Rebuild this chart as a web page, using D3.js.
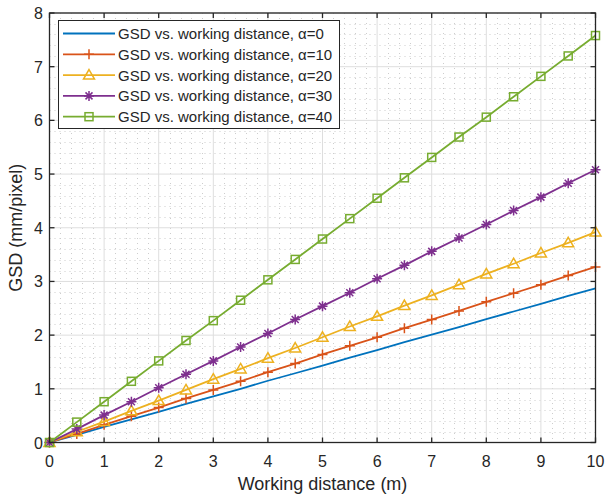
<!DOCTYPE html>
<html>
<head>
<meta charset="utf-8">
<script src="https://cdn.jsdelivr.net/npm/d3@7"></script>
<style>
  body { margin: 0; background: #fff; }
  svg { display: block; font-family: "Liberation Sans", Arial, sans-serif; }
</style>
</head>
<body>
<svg id="chart"></svg>
<script>
// working distance (m), one sample every 0.5 m
const distance = [0, 0.5, 1, 1.5, 2, 2.5, 3, 3.5, 4, 4.5, 5, 5.5, 6, 6.5, 7, 7.5, 8, 8.5, 9, 9.5, 10];

// GSD (mm/pixel)
const gsdA0 = [0, 0.14, 0.29, 0.43, 0.57, 0.72, 0.86, 1.00, 1.15, 1.29, 1.43, 1.58, 1.72, 1.87, 2.01, 2.15, 2.30, 2.44, 2.58, 2.73, 2.87];
const gsdA10 = [0, 0.16, 0.33, 0.49, 0.65, 0.82, 0.98, 1.14, 1.31, 1.47, 1.64, 1.80, 1.96, 2.13, 2.29, 2.45, 2.62, 2.78, 2.94, 3.11, 3.27];
const gsdA20 = [0, 0.20, 0.39, 0.59, 0.78, 0.98, 1.18, 1.37, 1.57, 1.76, 1.96, 2.16, 2.35, 2.55, 2.74, 2.94, 3.14, 3.33, 3.53, 3.72, 3.92];
const gsdA30 = [0, 0.25, 0.51, 0.76, 1.02, 1.27, 1.52, 1.78, 2.03, 2.29, 2.54, 2.79, 3.05, 3.30, 3.56, 3.81, 4.06, 4.32, 4.57, 4.83, 5.08];
const gsdA40 = [0, 0.38, 0.76, 1.14, 1.52, 1.90, 2.27, 2.65, 3.03, 3.41, 3.79, 4.17, 4.55, 4.93, 5.31, 5.69, 6.06, 6.44, 6.82, 7.20, 7.58];

const seriesNames = [
	"GSD vs. working distance, α=0",
	"GSD vs. working distance, α=10",
	"GSD vs. working distance, α=20",
	"GSD vs. working distance, α=30",
	"GSD vs. working distance, α=40",
];
const xTicks = [0, 1, 2, 3, 4, 5, 6, 7, 8, 9, 10];
const yTicks = [0, 1, 2, 3, 4, 5, 6, 7, 8];

const colors = ["#0072BD", "#D95319", "#EDB120", "#7E2F8E", "#77AC30"];
const markers = ["none", "plus", "triangle", "asterisk", "square"];
const allValues = [gsdA0, gsdA10, gsdA20, gsdA30, gsdA40];

const w = 606, h = 498;
const pLeft = 49.5, pRight = 595.5, pTop = 13, pBottom = 442.5;

const svg = d3.select("#chart").attr("width", w).attr("height", h);

const x = d3.scaleLinear().domain([0, 10]).range([pLeft, pRight]);
const y = d3.scaleLinear().domain([0, 8]).range([pBottom, pTop]);

// minor grid (dotted)
const minorX = d3.range(0, 10.001, 0.2).filter((v) => Math.abs(v - Math.round(v)) > 0.01);
const minorY = d3.range(0, 8.001, 0.2).filter((v) => Math.abs(v - Math.round(v)) > 0.01);
const grid = svg.append("g");
grid.selectAll(".mx").data(minorX).enter().append("line")
	.attr("x1", (d) => Math.round(x(d)) + 0.5).attr("x2", (d) => Math.round(x(d)) + 0.5)
	.attr("y1", pTop).attr("y2", pBottom)
	.attr("stroke", "#cdcdcd").attr("stroke-width", 1).attr("stroke-dasharray", "1,4");
grid.selectAll(".my").data(minorY).enter().append("line")
	.attr("y1", (d) => Math.round(y(d)) + 0.5).attr("y2", (d) => Math.round(y(d)) + 0.5)
	.attr("x1", pLeft).attr("x2", pRight)
	.attr("stroke", "#cdcdcd").attr("stroke-width", 1).attr("stroke-dasharray", "1,4");
// major grid
grid.selectAll(".gx").data(xTicks).enter().append("line")
	.attr("x1", (d) => x(d)).attr("x2", (d) => x(d))
	.attr("y1", pTop).attr("y2", pBottom)
	.attr("stroke", "#dedede").attr("stroke-width", 1);
grid.selectAll(".gy").data(yTicks).enter().append("line")
	.attr("y1", (d) => y(d)).attr("y2", (d) => y(d))
	.attr("x1", pLeft).attr("x2", pRight)
	.attr("stroke", "#dedede").attr("stroke-width", 1);

// marker drawing
function drawMarker(g, type, color) {
	const s = 5;
	if (type === "plus") {
		g.append("path").attr("d", `M${-s},0H${s}M0,${-s}V${s}`)
			.attr("stroke", color).attr("stroke-width", 1.5).attr("fill", "none");
	} else if (type === "triangle") {
		g.append("path").attr("d", `M0,${-5.5}L5.5,4L-5.5,4Z`)
			.attr("stroke", color).attr("stroke-width", 1.5).attr("fill", "none");
	} else if (type === "asterisk") {
		const d = 3.5;
		g.append("path").attr("d", `M${-s},0H${s}M0,${-s}V${s}M${-d},${-d}L${d},${d}M${-d},${d}L${d},${-d}`)
			.attr("stroke", color).attr("stroke-width", 1.5).attr("fill", "none");
	} else if (type === "square") {
		g.append("rect").attr("x", -4).attr("y", -4).attr("width", 8).attr("height", 8)
			.attr("stroke", color).attr("stroke-width", 1.5).attr("fill", "none");
	}
}

const line = d3.line().x((d) => x(d[0])).y((d) => y(d[1]));

allValues.forEach((vals, i) => {
	const pts = distance.map((dd, k) => [dd, vals[k]]);
	const g = svg.append("g");
	g.append("path").datum(pts).attr("d", line)
		.attr("fill", "none").attr("stroke", colors[i]).attr("stroke-width", 1.8);
	if (markers[i] !== "none") {
		pts.forEach((p) => {
			const mg = g.append("g").attr("transform", `translate(${x(p[0])},${y(p[1])})`);
			drawMarker(mg, markers[i], colors[i]);
		});
	}
});

// axes box and ticks
const axisColor = "#262626";
svg.append("rect").attr("x", pLeft).attr("y", pTop)
	.attr("width", pRight - pLeft).attr("height", pBottom - pTop)
	.attr("fill", "none").attr("stroke", axisColor).attr("stroke-width", 1.3);

const tickLen = 5;
const ticks = svg.append("g").attr("stroke", axisColor).attr("stroke-width", 1.3);
xTicks.forEach((t) => {
	ticks.append("line").attr("x1", x(t)).attr("x2", x(t)).attr("y1", pBottom).attr("y2", pBottom - tickLen);
	ticks.append("line").attr("x1", x(t)).attr("x2", x(t)).attr("y1", pTop).attr("y2", pTop + tickLen);
});
yTicks.forEach((t) => {
	ticks.append("line").attr("y1", y(t)).attr("y2", y(t)).attr("x1", pLeft).attr("x2", pLeft + tickLen);
	ticks.append("line").attr("y1", y(t)).attr("y2", y(t)).attr("x1", pRight).attr("x2", pRight - tickLen);
});

svg.append("g").selectAll("text").data(xTicks).enter().append("text")
	.attr("x", (d) => x(d)).attr("y", 467)
	.attr("text-anchor", "middle").attr("font-size", 16).attr("fill", axisColor)
	.text((d) => d);
svg.append("g").selectAll("text").data(yTicks).enter().append("text")
	.attr("x", 43).attr("y", (d) => y(d) + 6)
	.attr("text-anchor", "end").attr("font-size", 16).attr("fill", axisColor)
	.text((d) => d);

svg.append("text").attr("x", (pLeft + pRight) / 2).attr("y", 490)
	.attr("text-anchor", "middle").attr("font-size", 18).attr("fill", axisColor)
	.text("Working distance (m)");
svg.append("text").attr("transform", `translate(22,${(pTop + pBottom) / 2}) rotate(-90)`)
	.attr("text-anchor", "middle").attr("font-size", 18).attr("fill", axisColor)
	.text("GSD (mm/pixel)");

// legend
const legend = svg.append("g");
legend.append("rect").attr("x", 58.5).attr("y", 20.5).attr("width", 281).attr("height", 108)
	.attr("fill", "#fff").attr("stroke", axisColor).attr("stroke-width", 1);
seriesNames.forEach((name, i) => {
	const ly = 33.5 + i * 20.8;
	const g = legend.append("g");
	g.append("line").attr("x1", 63).attr("x2", 115).attr("y1", ly).attr("y2", ly)
		.attr("stroke", colors[i]).attr("stroke-width", 1.8);
	if (markers[i] !== "none") {
		drawMarker(g.append("g").attr("transform", `translate(89,${ly})`), markers[i], colors[i]);
	}
	g.append("text").attr("x", 118).attr("y", ly + 5.5)
		.attr("font-size", 15).attr("fill", axisColor).text(name);
});
</script>
</body>
</html>
